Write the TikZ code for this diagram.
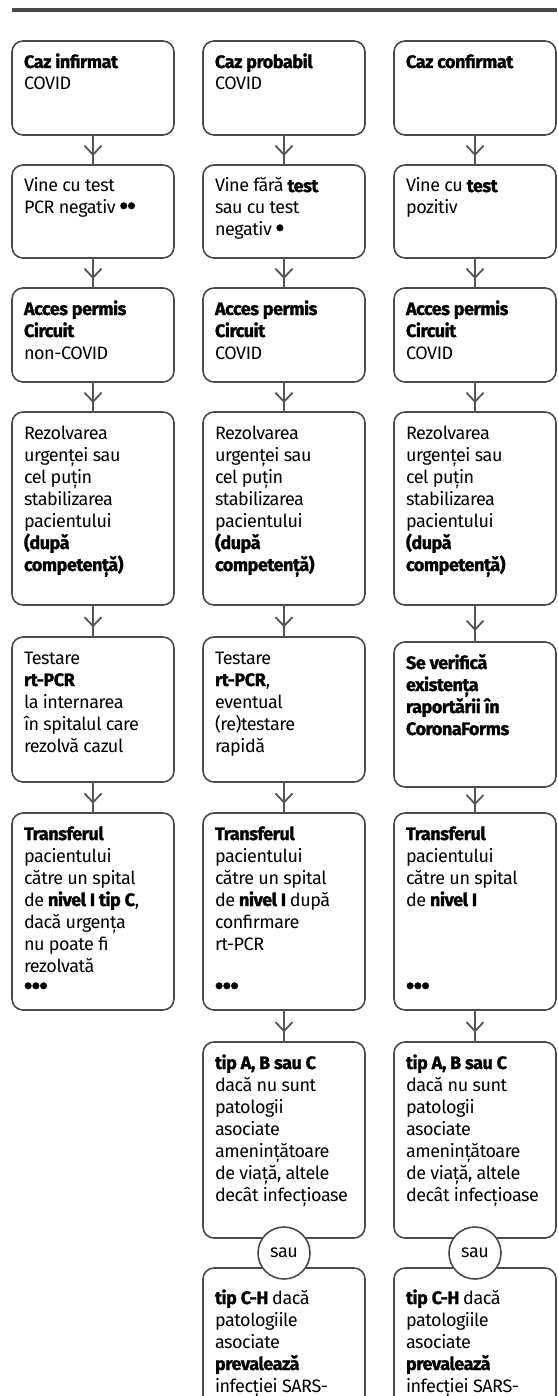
\documentclass[tikz,border=0pt]{standalone}
\usepackage{fontspec}
\setmainfont{Fira Sans}[LetterSpace=-2.5,BoldFeatures={FakeBold=1.2}]
\usetikzlibrary{arrows.meta,decorations.markings,calc}

\definecolor{liniegri}{HTML}{4A4A4A}
\definecolor{sageatagri}{HTML}{555555}

\newcommand{\continut}[3][27pt]{\parbox[b][#2][t]{138pt}{\parbox[t]{200pt}{\raggedright\rule{0pt}{#1}#3}}}
\newcommand{\puncte}[1]{{\fontsize{24}{22}\selectfont\textbf{#1}}}

\tikzset{
  caseta/.style={draw=liniegri, line width=1.6pt, rounded corners=11pt, fill=white,
    anchor=north west, inner xsep=12pt, inner ysep=0pt, outer sep=0pt,
    font=\fontsize{18}{22}\selectfont},
  sageata/.style={draw=sageatagri, line width=1.8pt, postaction={decorate},
    decoration={markings, mark=at position 0.7 with {\arrow{Straight Barb[length=9pt,width=17pt,line width=1.8pt]}}}},
  sau/.style={draw=liniegri, line width=1.6pt, fill=white, circle, minimum size=52pt,
    inner sep=0pt, font=\fontsize{18}{22}\selectfont}
}

\begin{document}
\begin{tikzpicture}[x=1pt,y=-1pt]
\useasboundingbox (0,0) rectangle (557,1396);
\clip (0,0) rectangle (557,1396);

\draw[line width=3.5pt, draw=liniegri] (12,10) -- (557,10);

% caz infirmat
\node[caseta] (inf1) at (12,41) {\continut{94pt}{\textbf{Caz infirmat}\\COVID}};
\node[caseta] (inf2) at (12,165) {\continut{93pt}{Vine cu test\\PCR negativ \puncte{••}}};
\node[caseta] (inf3) at (12,288) {\continut{94pt}{\textbf{Acces permis}\\\textbf{Circuit}\\non-COVID}};
\node[caseta] (inf4) at (12,412) {\continut{193pt}{Rezolvarea\\urgenței sau\\cel puțin\\stabilizarea\\pacientului\\\textbf{(după}\\\textbf{competență)}}};
\node[caseta] (inf5) at (12,637) {\continut{145pt}{Testare\\\textbf{rt-PCR}\\la internarea\\în spitalul care\\rezolvă cazul}};
\node[caseta] (inf6) at (12,813) {\continut{197pt}{\textbf{Transferul}\\pacientului\\către un spital\\de \textbf{nivel I tip C},\\dacă urgența\\nu poate fi\\rezolvată\\\puncte{•••}}};

% caz probabil
\node[caseta] (prob1) at (203,41) {\continut{94pt}{\textbf{Caz probabil}\\COVID}};
\node[caseta] (prob2) at (203,165) {\continut{93pt}{Vine fără \textbf{test}\\sau cu test\\negativ \puncte{•}}};
\node[caseta] (prob3) at (203,288) {\continut{94pt}{\textbf{Acces permis}\\\textbf{Circuit}\\COVID}};
\node[caseta] (prob4) at (203,412) {\continut{193pt}{Rezolvarea\\urgenței sau\\cel puțin\\stabilizarea\\pacientului\\\textbf{(după}\\\textbf{competență)}}};
\node[caseta] (prob5) at (203,637) {\continut{145pt}{Testare\\\textbf{rt-PCR},\\eventual\\(re)testare\\rapidă}};
\node[caseta] (prob6) at (203,813) {\continut{197pt}{\textbf{Transferul}\\pacientului\\către un spital\\de \textbf{nivel I} după\\confirmare\\rt-PCR\\[22pt]\puncte{•••}}};
\node[caseta] (prob7) at (203,1042) {\continut{196pt}{\textbf{tip A, B sau C}\\dacă nu sunt\\patologii\\asociate\\amenințătoare\\de viață, altele\\decât infecțioase}};
\node[caseta] (prob8) at (203,1268) {\continut[36pt]{170pt}{\textbf{tip C-H} dacă\\patologiile\\asociate\\\textbf{prevalează}\\infecției SARS-}};

% caz confirmat
\node[caseta] (conf1) at (394,41) {\continut{94pt}{\textbf{Caz confirmat}}};
\node[caseta] (conf2) at (394,165) {\continut{93pt}{Vine cu \textbf{test}\\pozitiv}};
\node[caseta] (conf3) at (394,288) {\continut{94pt}{\textbf{Acces permis}\\\textbf{Circuit}\\COVID}};
\node[caseta] (conf4) at (394,412) {\continut{193pt}{Rezolvarea\\urgenței sau\\cel puțin\\stabilizarea\\pacientului\\\textbf{(după}\\\textbf{competență)}}};
\node[caseta] (conf5) at (394,642) {\continut{145pt}{\textbf{Se verifică}\\\textbf{existența}\\\textbf{raportării în}\\\textbf{CoronaForms}}};
\node[caseta] (conf6) at (394,813) {\continut{197pt}{\textbf{Transferul}\\pacientului\\către un spital\\de \textbf{nivel I}\\[66pt]\puncte{•••}}};
\node[caseta] (conf7) at (394,1042) {\continut{196pt}{\textbf{tip A, B sau C}\\dacă nu sunt\\patologii\\asociate\\amenințătoare\\de viață, altele\\decât infecțioase}};
\node[caseta] (conf8) at (394,1268) {\continut[36pt]{170pt}{\textbf{tip C-H} dacă\\patologiile\\asociate\\\textbf{prevalează}\\infecției SARS-}};

\draw[sageata] (inf1) -- (inf2);
\draw[sageata] (inf2) -- (inf3);
\draw[sageata] (inf3) -- (inf4);
\draw[sageata] (inf4) -- (inf5);
\draw[sageata] (inf5) -- (inf6);

\draw[sageata] (prob1) -- (prob2);
\draw[sageata] (prob2) -- (prob3);
\draw[sageata] (prob3) -- (prob4);
\draw[sageata] (prob4) -- (prob5);
\draw[sageata] (prob5) -- (prob6);
\draw[sageata] (prob6) -- (prob7);

\draw[sageata] (conf1) -- (conf2);
\draw[sageata] (conf2) -- (conf3);
\draw[sageata] (conf3) -- (conf4);
\draw[sageata] (conf4) -- (conf5);
\draw[sageata] (conf5) -- (conf6);
\draw[sageata] (conf6) -- (conf7);

\node[sau] (sauprob) at ($(prob7.south)!0.5!(prob8.north)$) {sau};
\node[sau] (sauconf) at ($(conf7.south)!0.5!(conf8.north)$) {sau};

%\caption{circuit pacienti COVID}
\end{tikzpicture}
\end{document}
